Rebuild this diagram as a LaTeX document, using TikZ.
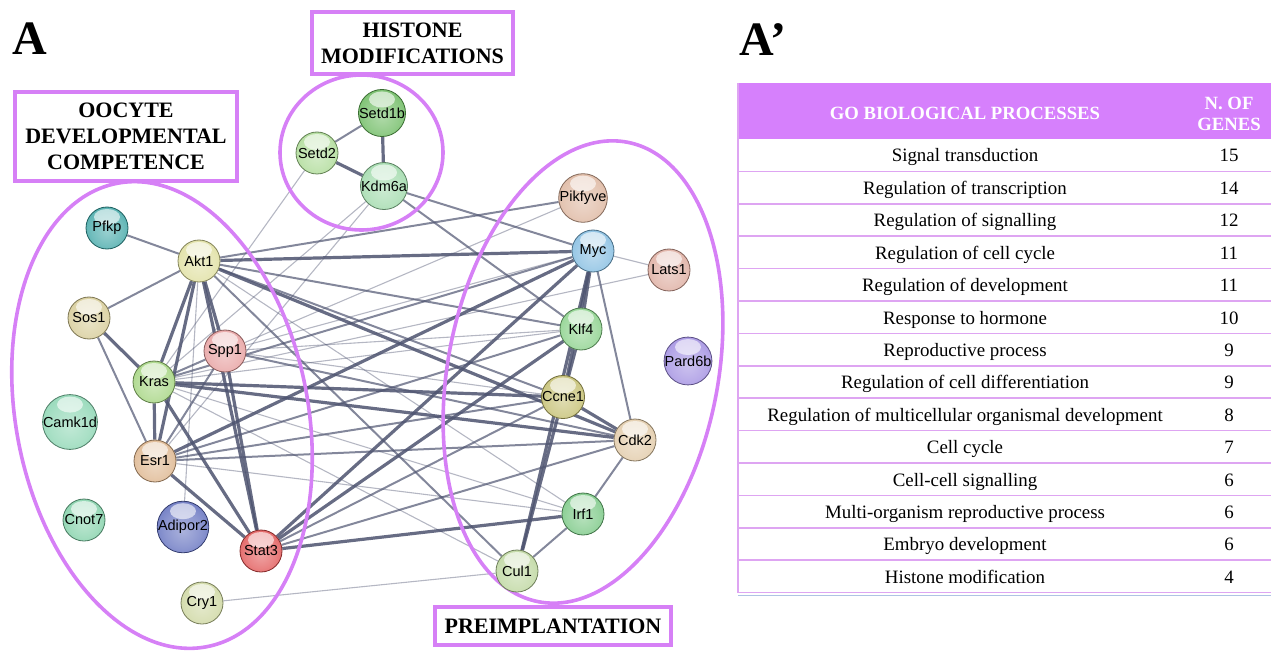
\documentclass[tikz,border=0pt]{standalone}
\usepackage{fontspec}
\setmainfont{Liberation Serif}
\setsansfont{Liberation Sans}

\definecolor{violetline}{RGB}{214,128,246}
\definecolor{headfill}{RGB}{214,128,252}
\definecolor{rowline}{RGB}{222,165,242}
\definecolor{edgecol}{RGB}{78,84,112}
\definecolor{tablebase}{RGB}{175,195,228}

% gene colours
\definecolor{cSetdB}{RGB}{95,180,82}
\definecolor{cSetdT}{RGB}{165,215,140}
\definecolor{cKdm}{RGB}{150,214,162}
\definecolor{cPfkp}{RGB}{50,160,160}
\definecolor{cAkt}{RGB}{220,220,150}
\definecolor{cSos}{RGB}{210,198,140}
\definecolor{cSpp}{RGB}{228,150,150}
\definecolor{cKras}{RGB}{155,208,115}
\definecolor{cCamk}{RGB}{130,210,172}
\definecolor{cEsr}{RGB}{218,174,130}
\definecolor{cCnot}{RGB}{118,204,160}
\definecolor{cAdip}{RGB}{85,100,185}
\definecolor{cStat}{RGB}{222,70,70}
\definecolor{cCry}{RGB}{200,210,150}
\definecolor{cPik}{RGB}{218,175,150}
\definecolor{cMyc}{RGB}{120,182,222}
\definecolor{cLats}{RGB}{218,164,150}
\definecolor{cKlf}{RGB}{128,205,128}
\definecolor{cPard}{RGB}{152,132,222}
\definecolor{cCcne}{RGB}{190,184,98}
\definecolor{cCdk}{RGB}{222,196,158}
\definecolor{cIrf}{RGB}{108,194,120}
\definecolor{cCul}{RGB}{182,210,148}

\pgfdeclarelayer{edges}
\pgfdeclarelayer{rings}
\pgfsetlayers{edges,rings,main}

% glossy sphere shading, coloured by genecol at use time
\pgfdeclareradialshading[genecol]{genesphere}{\pgfpoint{0bp}{-4bp}}{%
  color(0bp)=(genecol!50!white);
  color(18bp)=(genecol!68!white);
  color(36bp)=(genecol!92!white);
  color(44bp)=(genecol);
  color(50bp)=(genecol!72!black);
  color(70bp)=(genecol!72!black)}

\tikzset{
  gene/.style={circle, minimum size=42pt, inner sep=0pt,
    /utils/exec={\colorlet{genecol}{#1}},
    shading=genesphere, draw=#1!60!black, line width=0.8pt,
    font=\sffamily\fontsize{14.5}{16}\selectfont, text=black,
    path picture={\fill[white,opacity=0.6]
      ([yshift=-10pt]path picture bounding box.north)
      ellipse [x radius=13pt, y radius=8pt];}},
  elo/.style={draw=edgecol, line width=1.1pt, opacity=0.42},
  emid/.style={draw=edgecol, line width=2pt, opacity=0.7},
  ehi/.style={draw=edgecol, line width=3.2pt, opacity=0.86},
  ring/.style={draw=violetline, line width=3.6pt},
  tagbox/.style={draw=violetline, line width=3.6pt, align=center,
    inner sep=0pt, font=\bfseries\fontsize{22}{26}\selectfont},
  headtext/.style={text=white, font=\bfseries\fontsize{18.7}{21.5}\selectfont,
    align=center, inner sep=0pt},
  celltext/.style={font=\fontsize{18.9}{20}\selectfont, anchor=base, inner sep=0pt},
  panel/.style={font=\bfseries\fontsize{48}{48}\selectfont, anchor=base west, inner sep=0pt},
}

\begin{document}
\begin{tikzpicture}[x=1pt,y=-1pt]
\useasboundingbox (0,0) rectangle (1271,652);

% panel letters
\node[panel] (pA) at (12,55) {A};
\node[panel] (pAp) at (739,56) {A’};

% group labels
\node[tagbox, minimum width=222pt, minimum height=89pt] (tOocyte) at (126,136.5)
  {OOCYTE\\DEVELOPMENTAL\\COMPETENCE};
\node[tagbox, minimum width=201pt, minimum height=62pt] (tHistone) at (412.5,43)
  {HISTONE\\MODIFICATIONS};
\node[tagbox, minimum width=236pt, minimum height=38pt] (tPre) at (553,626)
  {PREIMPLANTATION};

% genes
\node[gene=cSetdB] (Setd1b) at (382,113) {Setd1b};
\node[gene=cSetdT] (Setd2) at (317,153) {Setd2};
\node[gene=cKdm] (Kdm6a) at (384,186) {Kdm6a};
\node[gene=cPfkp] (Pfkp) at (107,228) {Pfkp};
\node[gene=cAkt] (Akt1) at (199,261) {Akt1};
\node[gene=cSos] (Sos1) at (89,318) {Sos1};
\node[gene=cSpp] (Spp1) at (225,351) {Spp1};
\node[gene=cKras] (Kras) at (154,382) {Kras};
\node[gene=cCamk] (Camk1d) at (70,422) {Camk1d};
\node[gene=cEsr] (Esr1) at (155,461) {Esr1};
\node[gene=cCnot] (Cnot7) at (84,520) {Cnot7};
\node[gene=cAdip] (Adipor2) at (183,527) {Adipor2};
\node[gene=cStat] (Stat3) at (261,551) {Stat3};
\node[gene=cCry] (Cry1) at (202,603) {Cry1};
\node[gene=cPik] (Pikfyve) at (583,198) {Pikfyve};
\node[gene=cMyc] (Myc) at (593,251) {Myc};
\node[gene=cLats] (Lats1) at (669,270) {Lats1};
\node[gene=cKlf] (Klf4) at (581,329) {Klf4};
\node[gene=cPard] (Pard6b) at (688,361) {Pard6b};
\node[gene=cCcne] (Ccne1) at (563,397) {Ccne1};
\node[gene=cCdk] (Cdk2) at (635,440) {Cdk2};
\node[gene=cIrf] (Irf1) at (583,514) {Irf1};
\node[gene=cCul] (Cul1) at (517,571) {Cul1};

% interaction edges
\begin{pgfonlayer}{edges}
\foreach \a/\b/\s in {
  Setd1b/Setd2/emid, Setd1b/Kdm6a/ehi, Setd2/Kdm6a/ehi,
  Setd2/Kras/elo, Kdm6a/Kras/elo, Kdm6a/Esr1/elo, Kdm6a/Myc/emid, Kdm6a/Klf4/emid,
  Akt1/Pfkp/emid, Akt1/Sos1/emid, Akt1/Kras/ehi, Akt1/Esr1/ehi, Akt1/Spp1/ehi,
  Akt1/Stat3/ehi, Akt1/Myc/ehi, Akt1/Pikfyve/emid, Akt1/Klf4/emid, Akt1/Ccne1/emid,
  Akt1/Cdk2/ehi, Akt1/Irf1/elo, Akt1/Cul1/emid, Akt1/Adipor2/elo,
  Sos1/Kras/ehi, Sos1/Esr1/emid,
  Kras/Esr1/ehi, Kras/Spp1/emid, Kras/Stat3/ehi, Kras/Myc/emid, Kras/Klf4/elo,
  Kras/Ccne1/ehi, Kras/Cdk2/ehi, Kras/Irf1/elo, Kras/Cul1/elo, Kras/Lats1/elo,
  Spp1/Esr1/emid, Spp1/Stat3/ehi, Spp1/Myc/elo, Spp1/Klf4/elo, Spp1/Ccne1/elo,
  Spp1/Cdk2/emid, Spp1/Pikfyve/elo,
  Esr1/Stat3/ehi, Esr1/Myc/ehi, Esr1/Klf4/emid, Esr1/Ccne1/emid, Esr1/Cdk2/emid,
  Esr1/Irf1/elo,
  Stat3/Myc/ehi, Stat3/Klf4/ehi, Stat3/Ccne1/emid, Stat3/Cdk2/emid, Stat3/Irf1/ehi,
  Myc/Klf4/ehi, Myc/Cdk2/emid, Myc/Lats1/elo, Myc/Cul1/ehi, Myc/Ccne1/ehi,
  Klf4/Ccne1/ehi, Ccne1/Cdk2/ehi, Ccne1/Cul1/ehi, Cdk2/Irf1/emid, Irf1/Cul1/emid,
  Cul1/Cry1/elo}
  \draw[\s] (\a) -- (\b);
\end{pgfonlayer}

% functional groups
\begin{pgfonlayer}{rings}
\draw[ring] (361.5,152.5) ellipse [x radius=81.5pt, y radius=77.5pt];
\draw[ring, rotate around={11:(162,415)}] (162,415) ellipse [x radius=146pt, y radius=236pt];
\draw[ring, rotate around={-11:(583,372)}] (583,372) ellipse [x radius=135pt, y radius=234pt];
\end{pgfonlayer}

% GO table
\fill[headfill] (738,83) rectangle (1271,139);
\node[headtext] (hGO) at (965,113) {GO BIOLOGICAL PROCESSES};
\node[headtext] (hNum) at (1229,114) {N. OF\\GENES};
\foreach \i in {1,...,13}
  \draw[rowline, line width=1.6pt] (738,{139+32.4*\i}) -- (1271,{139+32.4*\i});
\draw[rowline, line width=1.6pt] (738,83) -- (738,592.6) -- (1271,592.6);
\draw[tablebase, line width=1.4pt] (738,595.4) -- (1271,595.4);
\foreach \txt/\num [count=\i from 0] in {
  Signal transduction/15,
  Regulation of transcription/14,
  Regulation of signalling/12,
  Regulation of cell cycle/11,
  Regulation of development/11,
  Response to hormone/10,
  Reproductive process/9,
  Regulation of cell differentiation/9,
  Regulation of multicellular organismal development/8,
  Cell cycle/7,
  Cell-cell signalling/6,
  Multi-organism reproductive process/6,
  Embryo development/6,
  Histone modification/4}
{
  \node[celltext] (proc\i) at (965,{139+32.4*\i+23}) {\txt};
  \node[celltext] (num\i) at (1229,{139+32.4*\i+23}) {\num};
}
\end{tikzpicture}
\end{document}
